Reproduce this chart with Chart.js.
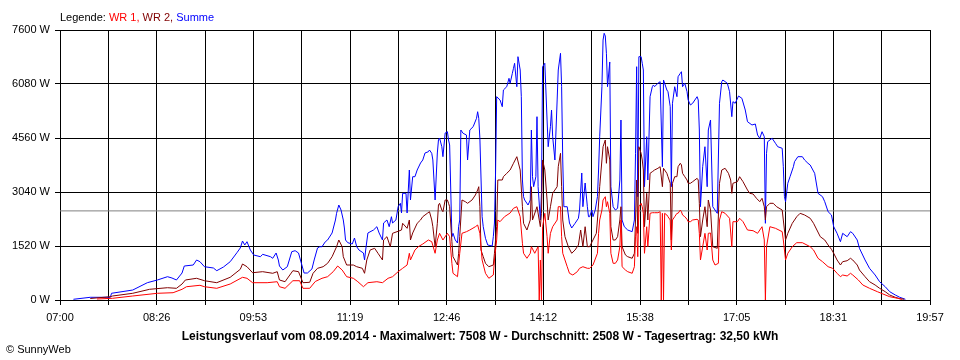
<!DOCTYPE html>
<html><head><meta charset="utf-8">
<script src="https://cdn.jsdelivr.net/npm/chart.js@4.4.1/dist/chart.umd.min.js"></script>
<style>
html,body{margin:0;padding:0;background:#fff;}
#wrap{position:relative;width:960px;height:360px;overflow:hidden;font-family:'Liberation Sans',Arial,sans-serif;}
#c{position:absolute;left:0;top:0;}
.t{position:absolute;white-space:nowrap;font-size:11px;color:#000;line-height:13px;}
#legend{left:60px;top:11px;}
#title{left:0;width:960px;text-align:center;top:329px;font-weight:bold;font-size:12px;line-height:14px;}
#copy{left:6px;top:343px;}
</style></head><body>
<div id="wrap">
<canvas id="c" width="960" height="360"></canvas>
<div class="t" id="legend">Legende: <span style="color:#ff0000">WR 1,</span> <span style="color:#800000">WR 2,</span> <span style="color:#0000ff">Summe</span></div>
<div class="t" id="title">Leistungsverlauf vom 08.09.2014 - Maximalwert: 7508 W - Durchschnitt: 2508 W - Tagesertrag: 32,50 kWh</div>
<div class="t" id="copy">© SunnyWeb</div>
</div>
<script>
const xTickLabels = ['07:00','08:26','09:53','11:19','12:46','14:12','15:38','17:05','18:31','19:57'];
const yTickValues = [0,1520,3040,4560,6080,7600];
const averageW = 2508;

const wr1Data = [
['07:33',28],['07:47',48],['08:05',113],['08:27',189],['08:41',205],['08:49',301],['08:53',374],['09:05',414],['09:09',374],['09:20',329],
['09:32',450],['09:43',639],['09:47',611],['09:52',487],['10:05',487],['10:14',515],['10:16',374],['10:21',329],['10:28',543],['10:34',543],
['10:37',329],['10:43',329],['10:48',521],['10:54',611],['10:59',656],['11:04',797],['11:08',957],['11:12',844],['11:16',656],['11:22',611],
['11:26',515],['11:31',374],['11:35',487],['11:43',515],['11:48',487],['11:53',611],['11:57',656],['12:02',797],['12:06',892],['12:10',985],
['12:12',1315],['12:13',1126],['12:17',1407],['12:20',1500],['12:24',1576],['12:29',1689],['12:32',1641],['12:35',1315],['12:37',1689],['12:39',1877],
['12:42',1689],['12:46',1877],['12:48',1782],['12:50',1033],['12:51',752],['12:55',656],['12:57',1315],['12:59',1877],['13:03',1923],['13:06',1970],
['13:11',2063],['13:13',2111],['13:15',1877],['13:17',1126],['13:20',752],['13:23',611],['13:27',704],['13:28',1126],['13:30',1689],['13:31',2252],
['13:33',2204],['13:37',2345],['13:42',2449],['13:45',2581],['13:48',2626],['13:51',2345],['13:53',1596],['13:54',1315],['13:57',1174],['14:00',1315],
['14:01',1500],['14:04',1315],['14:07',1500],['14:08',0],['14:09',1126],['14:10',0],['14:11',2063],['14:13',2440],['14:15',1782],['14:16',1315],
['14:18',1877],['14:20',2063],['14:24',2252],['14:25',2626],['14:27',2626],['14:28',1782],['14:29',1315],['14:33',937],['14:35',752],['14:38',704],
['14:42',797],['14:44',892],['14:47',937],['14:51',892],['14:53',892],['14:56',985],['15:00',1315],['15:01',1877],['15:02',2252],['15:04',2533],
['15:05',2815],['15:07',2908],['15:08',2626],['15:09',2767],['15:11',2440],['15:12',1315],['15:14',1033],['15:16',1033],['15:18',1126],['15:20',1500],
['15:21',2252],['15:22',937],['15:25',844],['15:27',797],['15:31',752],['15:33',937],['15:34',1782],['15:35',2063],['15:36',1219],['15:37',2626],
['15:39',2722],['15:40',2626],['15:41',2440],['15:42',1315],['15:44',2063],['15:45',1500],['15:47',2440],['15:49',2457],['15:51',2457],['15:54',2457],
['15:56',2485],['15:57',0],['15:58',2440],['15:59',0],['16:00',2440],['16:02',2393],['16:03',2345],['16:05',2252],['16:06',1407],['16:07',2252],
['16:09',2345],['16:11',2440],['16:12',2440],['16:14',2533],['16:15',2485],['16:16',2393],['16:18',2345],['16:20',2272],['16:21',2204],['16:23',2204],
['16:25',2252],['16:29',2272],['16:30',2252],['16:31',1877],['16:32',1126],['16:34',1500],['16:36',1877],['16:38',1407],['16:39',1877],['16:41',1886],
['16:43',1126],['16:45',985],['16:48',1033],['16:49',2252],['16:51',2485],['16:54',2440],['16:58',2300],['17:00',1500],['17:01',2204],['17:05',2204],
['17:07',2300],['17:10',2204],['17:14',1970],['17:19',1951],['17:23',1877],['17:27',2063],['17:29',1689],['17:30',0],['17:31',1500],['17:34',2063],
['17:39',2018],['17:45',1923],['17:46',1689],['17:48',1126],['17:50',1315],['17:54',1500],['17:58',1613],['18:03',1613],['18:10',1500],['18:13',1407],
['18:17',1174],['18:21',1078],['18:26',937],['18:30',892],['18:34',752],['18:37',656],['18:39',704],['18:43',676],['18:46',752],['18:48',704],
['18:53',563],['18:57',422],['19:03',329],['19:10',234],['19:15',169],['19:21',93],['19:28',48],['19:32',20]
];

const wr2Data = [
['07:27',42],['07:45',93],['07:47',113],['08:05',189],['08:20',301],['08:36',346],['08:44',329],['08:49',450],['08:52',563],['09:02',611],
['09:09',543],['09:20',487],['09:32',639],['09:41',864],['09:43',1013],['09:47',937],['09:52',768],['10:01',797],['10:10',752],['10:14',797],
['10:16',563],['10:21',515],['10:28',825],['10:33',797],['10:37',487],['10:43',498],['10:46',752],['10:50',892],['10:55',937],['10:59',1033],
['11:03',1219],['11:07',1500],['11:09',1689],['11:12',1500],['11:13',1219],['11:16',985],['11:22',985],['11:25',937],['11:30',892],['11:32',752],
['11:34',1126],['11:37',1407],['11:41',1455],['11:44',1315],['11:48',1126],['11:49',1689],['11:52',1782],['11:55',1500],['11:57',1877],['12:01',1923],
['12:05',1970],['12:06',2159],['12:10',2018],['12:12',2252],['12:13',1689],['12:15',1886],['12:19',2159],['12:22',2252],['12:24',2345],['12:28',2440],
['12:30',2485],['12:32',2252],['12:33',2063],['12:35',1500],['12:37',2159],['12:38',2674],['12:39',2722],['12:41',2533],['12:42',2485],['12:44',2815],
['12:46',2815],['12:47',2722],['12:48',2626],['12:50',1641],['12:51',1219],['12:55',985],['12:56',1315],['12:57',1782],['12:59',2815],['13:02',2767],
['13:04',2722],['13:08',2815],['13:11',2956],['13:13',3096],['13:14',3189],['13:15',2626],['13:16',1407],['13:18',1219],['13:20',1033],['13:23',937],
['13:27',985],['13:28',1315],['13:30',2063],['13:31',3378],['13:35',3378],['13:36',3471],['13:39',3566],['13:42',3659],['13:45',3848],['13:48',4034],
['13:51',3659],['13:53',2626],['13:54',2159],['13:57',1970],['14:00',2252],['14:01',3189],['14:02',2252],['14:06',2626],['14:09',2063],['14:10',2440],
['14:11',3941],['14:13',3659],['14:15',2815],['14:16',2252],['14:18',2626],['14:20',3003],['14:24',3189],['14:25',3752],['14:27',4129],['14:28',3189],
['14:29',2252],['14:31',1782],['14:34',1500],['14:37',1315],['14:40',1407],['14:43',1548],['14:45',1970],['14:47',1500],['14:49',2063],['14:51',1500],
['14:53',1500],['14:56',1689],['14:59',1877],['15:00',2252],['15:02',3189],['15:04',3941],['15:05',4315],['15:07',4504],['15:08',3848],['15:09',4315],
['15:11',3941],['15:12',2063],['15:14',1689],['15:16',1689],['15:18',1782],['15:20',2252],['15:21',2626],['15:22',1500],['15:25',1267],['15:27',1219],
['15:31',1174],['15:33',1315],['15:34',2252],['15:35',3378],['15:36',1877],['15:37',4315],['15:39',4129],['15:40',3941],['15:41',3659],['15:42',2063],
['15:44',3003],['15:45',2252],['15:47',3566],['15:49',3611],['15:51',3659],['15:54',3707],['15:56',3752],['15:58',3189],['15:59',3707],['16:00',3659],
['16:02',3566],['16:03',3471],['16:05',3285],['16:06',1689],['16:07',3285],['16:09',3471],['16:11',3471],['16:12',3752],['16:14',3848],['16:15',3800],
['16:16',3566],['16:18',3471],['16:20',3378],['16:21',3285],['16:23',3285],['16:25',3330],['16:29',3425],['16:30',3378],['16:31',2722],['16:32',1782],
['16:34',2252],['16:36',2626],['16:38',2063],['16:39',2815],['16:41',2533],['16:43',1500],['16:47',1455],['16:49',3285],['16:51',3659],['16:54',3707],
['16:57',3566],['16:59',3378],['17:00',3003],['17:01',3285],['17:05',3330],['17:07',3471],['17:10',3330],['17:14',3096],['17:16',3003],['17:19',2984],
['17:22',2863],['17:25',2767],['17:27',2863],['17:29',2626],['17:30',2252],['17:31',2626],['17:34',2722],['17:37',2722],['17:40',2626],['17:45',2533],
['17:46',2252],['17:48',1689],['17:50',1877],['17:54',2159],['17:58',2345],['18:01',2440],['18:05',2393],['18:10',2300],['18:13',2159],['18:16',1970],
['18:19',1782],['18:23',1689],['18:26',1548],['18:29',1427],['18:31',1315],['18:34',1126],['18:37',985],['18:39',1078],['18:43',1106],['18:46',1174],
['18:48',1126],['18:52',985],['18:54',844],['18:59',656],['19:03',515],['19:08',422],['19:12',329],['19:17',234],['19:21',141],['19:26',76],
['19:30',37],['19:34',20]
];

const summeData = [
['07:12',20],['07:27',76],['07:45',76],['07:46',189],['08:05',281],['08:18',487],['08:27',563],['08:36',656],['08:40',619],['08:44',563],
['08:49',760],['08:51',957],['08:59',985],['09:02',1126],['09:05',1078],['09:09',937],['09:17',901],['09:20',825],['09:26',929],['09:32',1078],
['09:38',1331],['09:41',1464],['09:43',1661],['09:45',1548],['09:47',1641],['09:50',1407],['09:53',1267],['09:59',1219],['10:01',1286],['10:08',1219],
['10:10',1174],['10:13',1323],['10:15',1126],['10:16',957],['10:19',844],['10:23',937],['10:27',1360],['10:30',1388],['10:33',1323],['10:36',985],
['10:38',760],['10:41',760],['10:45',873],['10:47',1126],['10:50',1464],['10:52',1500],['10:54',1500],['10:57',1641],['10:59',1689],['11:03',1886],
['11:06',2252],['11:07',2440],['11:09',2674],['11:11',2533],['11:13',2252],['11:14',2027],['11:15',1689],['11:17',1613],['11:21',1576],['11:23',1745],
['11:25',1500],['11:27',1407],['11:31',1323],['11:32',1126],['11:33',1407],['11:35',1886],['11:40',1970],['11:43',2063],['11:45',1886],['11:48',1689],
['11:49',2167],['11:52',2252],['11:54',2063],['11:56',2345],['11:57',2167],['12:00',2252],['12:02',2626],['12:04',2722],['12:05',2449],['12:06',3003],
['12:09',3003],['12:10',2449],['12:12',3659],['12:13',2815],['12:15',3471],['12:17',3471],['12:19',3659],['12:22',3856],['12:24',3941],['12:26',4138],
['12:29',4174],['12:30',4222],['12:32',4129],['12:33',3941],['12:35',2815],['12:37',4138],['12:38',4504],['12:39',4560],['12:41',4315],['12:42',4034],
['12:44',4701],['12:46',4737],['12:47',4504],['12:48',4363],['12:50',1782],['12:51',1877],['12:53',1689],['12:55',1604],['12:56',2063],['12:57',2252],
['12:58',4785],['13:00',4692],['13:03',4644],['13:04',3941],['13:06',4785],['13:09',4878],['13:12',5115],['13:13',5300],['13:14',5115],['13:15',4551],
['13:17',2345],['13:18',2063],['13:20',1737],['13:22',1548],['13:26',1520],['13:27',1782],['13:28',2167],['13:29',3575],['13:30',5723],['13:33',5630],
['13:35',5441],['13:36',5911],['13:39',6004],['13:41',6240],['13:42',6100],['13:44',6381],['13:45',6522],['13:46',6663],['13:48',6004],['13:49',6849],
['13:51',6474],['13:52',5723],['13:53',3378],['13:54',2908],['13:55',2815],['13:58',2674],['14:00',2815],['14:01',4785],['14:02',3471],['14:03',3189],
['14:05',3471],['14:06',5160],['14:07',3189],['14:09',2252],['14:10',3003],['14:11',6567],['14:13',6663],['14:15',5067],['14:16',4315],['14:18',4878],
['14:19',5348],['14:20',4597],['14:22',3941],['14:24',5630],['14:25',6474],['14:27',6944],['14:28',6004],['14:29',3941],['14:30',2626],['14:33',2626],
['14:35',2167],['14:37',2027],['14:40',2159],['14:43',2300],['14:44',2533],['14:46',3575],['14:47',2626],['14:49',3293],['14:51',2626],['14:52',2345],
['14:53',2345],['14:55',2533],['14:56',2345],['14:58',2533],['15:00',2908],['15:01',3659],['15:02',4597],['15:04',6004],['15:05',7318],['15:06',7508],
['15:07',7431],['15:08',6944],['15:09',6004],['15:11',6700],['15:12',3189],['15:14',2626],['15:16',2533],['15:18',2581],['15:20',3378],['15:21',5067],
['15:22',2252],['15:24',2063],['15:27',1970],['15:31',1923],['15:33',2252],['15:34',4129],['15:35',6567],['15:36',2908],['15:37',6849],['15:39',6849],
['15:40',6663],['15:41',6474],['15:42',3189],['15:44',4597],['15:45',3378],['15:47',5723],['15:49',6004],['15:50',6052],['15:51',6004],['15:54',6100],
['15:56',6145],['15:58',3752],['15:59',6193],['16:00',6100],['16:02',5911],['16:03',5863],['16:05',5441],['16:06',3189],['16:07',5537],['16:09',6004],
['16:11',5723],['16:12',6285],['16:14',6381],['16:15',6426],['16:16',6004],['16:18',6100],['16:20',5863],['16:21',5630],['16:23',5489],['16:25',5537],
['16:29',5723],['16:30',5630],['16:31',4785],['16:32',2626],['16:34',3752],['16:36',4315],['16:38',3189],['16:39',4785],['16:41',5067],['16:43',2626],
['16:47',2440],['16:49',5537],['16:51',6145],['16:52',6193],['16:56',6100],['16:58',5863],['17:00',5160],['17:01',5582],['17:03',5537],['17:06',5742],
['17:09',5677],['17:12',5348],['17:14',5019],['17:18',4926],['17:21',4954],['17:23',4644],['17:25',4551],['17:27',4737],['17:29',4597],['17:30',2159],
['17:31',4129],['17:32',4456],['17:36',4551],['17:39',4411],['17:41',4315],['17:45',4270],['17:46',3752],['17:47',2908],['17:48',2767],['17:50',3285],
['17:52',3471],['17:55',3752],['17:56',3893],['17:59',4034],['18:03',4034],['18:05',3941],['18:08',3848],['18:10',3800],['18:14',3566],['18:17',3003],
['18:21',2908],['18:23',2767],['18:26',2485],['18:29',2393],['18:31',2063],['18:34',1877],['18:37',1641],['18:39',1877],['18:43',1782],['18:46',1923],
['18:48',1877],['18:52',1689],['18:54',1455],['18:59',1126],['19:03',892],['19:08',704],['19:12',515],['19:17',374],['19:21',234],['19:26',141],
['19:30',76],['19:35',20]
];

function toMin(s){ const p = s.split(':'); return (+p[0])*60 + (+p[1]); }
function pts(arr){ return arr.map(p => ({x: toMin(p[0]), y: p[1]})); }

const X_MIN = toMin(xTickLabels[0]);
const X_MAX = toMin(xTickLabels[xTickLabels.length-1]);
const FONT = {family: "'Liberation Sans', Arial, sans-serif", size: 11};

new Chart(document.getElementById('c'), {
  type: 'line',
  data: {
    datasets: [
      {label:'WR 1', data: pts(wr1Data), borderColor:'#ff0000'},
      {label:'WR 2', data: pts(wr2Data), borderColor:'#800000'},
      {label:'Summe', data: pts(summeData), borderColor:'#0000ff'},
      {label:'Durchschnitt', data: [{x:X_MIN,y:averageW},{x:X_MAX,y:averageW}], borderColor:'#808080'}
    ]
  },
  options: {
    responsive: false,
    animation: false,
    devicePixelRatio: 1,
    layout: {padding: {top: 30, right: 30, left: 0, bottom: 0}},
    plugins: {legend: {display: false}, tooltip: {enabled: false}, title: {display: false}},
    elements: {point: {radius: 0, hoverRadius: 0}, line: {borderWidth: 1, tension: 0, fill: false}},
    scales: {
      x: {
        type: 'linear', min: X_MIN, max: X_MAX,
        afterBuildTicks: s => { const n = (xTickLabels.length-1)*2; s.ticks = Array.from({length: n+1}, (_, i) => ({value: X_MIN + i*(X_MAX-X_MIN)/n})); },
        ticks: {autoSkip: false, maxRotation: 0, minRotation: 0, color: '#000', font: FONT, padding: 6,
          callback: (v, i) => (i % 2 === 0 ? xTickLabels[i/2] : '')},
        grid: {color: '#000', lineWidth: 1, tickLength: 5, drawTicks: true},
        border: {color: '#000', width: 1},
        afterFit: s => { s.height = 60; }
      },
      y: {
        min: yTickValues[0], max: yTickValues[yTickValues.length-1],
        afterBuildTicks: s => { s.ticks = yTickValues.map(v => ({value: v})); },
        ticks: {color: '#000', font: FONT, padding: 5, callback: v => v + ' W'},
        grid: {color: '#000', lineWidth: 1, tickLength: 5, drawTicks: true},
        border: {color: '#000', width: 1},
        afterFit: s => { s.width = 60; }
      }
    }
  }
});
</script>
</body></html>
